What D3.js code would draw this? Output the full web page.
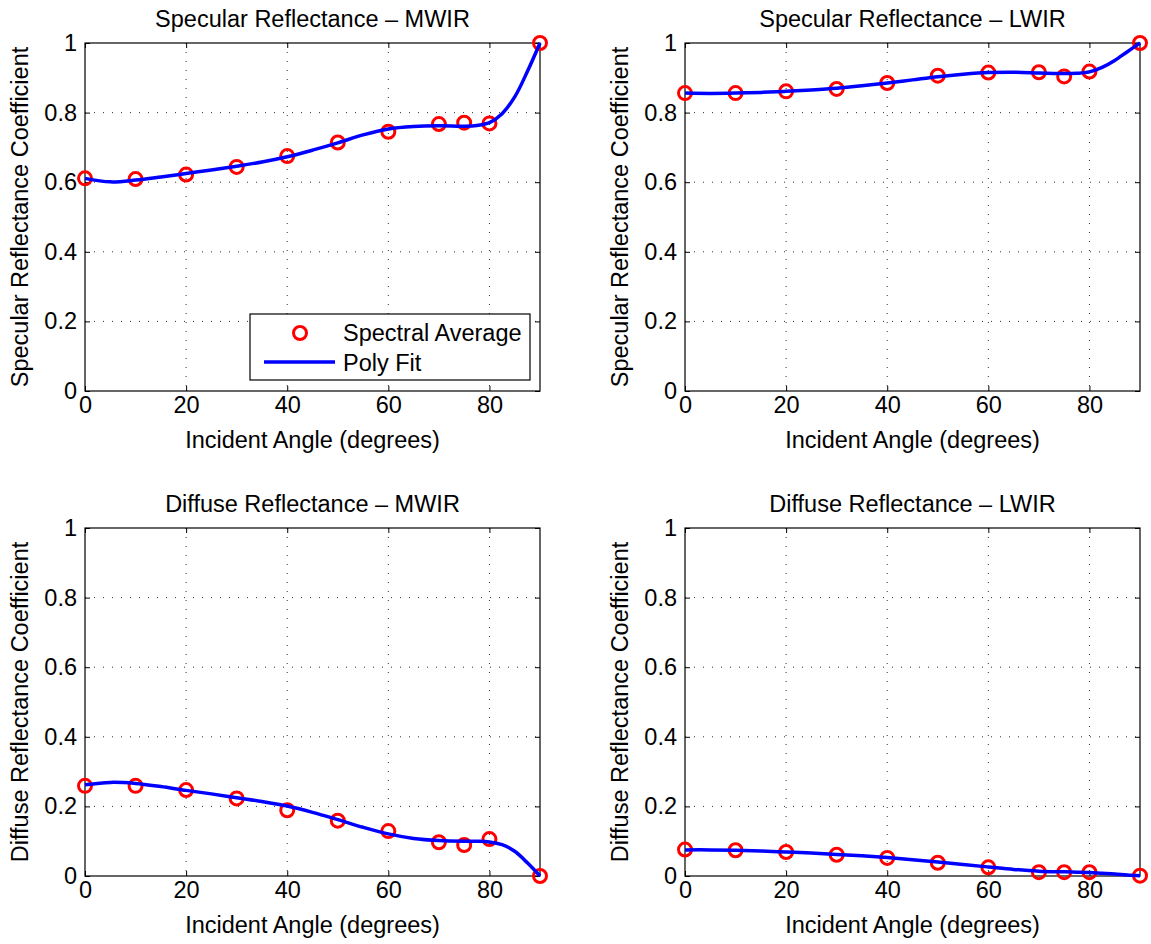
<!DOCTYPE html>
<html>
<head>
<meta charset="utf-8">
<script src="https://cdnjs.cloudflare.com/ajax/libs/d3/7.8.5/d3.min.js"></script>
<style>
  html, body { margin: 0; padding: 0; background: #fff; }
  svg { display: block; }
  text { font-family: "Liberation Sans", Arial, Helvetica, sans-serif; fill: #000; }
</style>
</head>
<body>
<svg id="chart" width="1151" height="944"></svg>
<script>
// ---------- data ----------
const angles = [0, 10, 20, 30, 40, 50, 60, 70, 75, 80, 90];
const fitAngles = [0, 5, 10, 15, 20, 25, 30, 35, 40, 45, 50, 55, 60, 65, 70, 75, 77.5, 80, 82.5, 85, 87.5, 90];

const specMWIR = [0.611, 0.609, 0.622, 0.644, 0.675, 0.714, 0.745, 0.767, 0.771, 0.769, 1.0];
const specMWIRFit = [0.611, 0.601, 0.606, 0.615, 0.625, 0.635, 0.646, 0.658, 0.673, 0.692, 0.713, 0.736, 0.753, 0.760, 0.762, 0.761, 0.763, 0.771, 0.797, 0.845, 0.918, 1.0];

const specLWIR = [0.856, 0.856, 0.861, 0.868, 0.885, 0.906, 0.915, 0.916, 0.904, 0.918, 1.0];
const specLWIRFit = [0.856, 0.855, 0.856, 0.858, 0.861, 0.865, 0.870, 0.877, 0.885, 0.894, 0.903, 0.910, 0.915, 0.916, 0.914, 0.912, 0.913, 0.917, 0.930, 0.950, 0.975, 1.0];

const diffMWIR = [0.259, 0.259, 0.247, 0.223, 0.189, 0.159, 0.129, 0.097, 0.089, 0.106, 0.0];
const diffMWIRFit = [0.262, 0.269, 0.266, 0.257, 0.246, 0.236, 0.225, 0.214, 0.201, 0.183, 0.162, 0.140, 0.121, 0.108, 0.102, 0.100, 0.100, 0.098, 0.090, 0.071, 0.038, 0.0];

const diffLWIR = [0.076, 0.074, 0.069, 0.061, 0.052, 0.038, 0.025, 0.011, 0.011, 0.011, 0.001];
const diffLWIRFit = [0.075, 0.075, 0.074, 0.072, 0.069, 0.066, 0.062, 0.058, 0.053, 0.047, 0.040, 0.033, 0.026, 0.019, 0.014, 0.012, 0.011, 0.010, 0.008, 0.006, 0.003, 0.001];

const xTicks = [0, 20, 40, 60, 80];
const yTicks = [0, 0.2, 0.4, 0.6, 0.8, 1];
const xDomain = [0, 90];
const yDomain = [0, 1];

const panelTitles = ["Specular Reflectance \u2013 MWIR", "Specular Reflectance \u2013 LWIR",
                     "Diffuse Reflectance \u2013 MWIR", "Diffuse Reflectance \u2013 LWIR"];
const yLabels = ["Specular Reflectance Coefficient", "Specular Reflectance Coefficient",
                 "Diffuse Reflectance Coefficient", "Diffuse Reflectance Coefficient"];
const xLabel = "Incident Angle (degrees)";
const legendLabels = ["Spectral Average", "Poly Fit"];

const panels = [
  { title: panelTitles[0], ylabel: yLabels[0], pts: specMWIR, fit: specMWIRFit, left: 85, top: 43, legend: true },
  { title: panelTitles[1], ylabel: yLabels[1], pts: specLWIR, fit: specLWIRFit, left: 685, top: 43, legend: false },
  { title: panelTitles[2], ylabel: yLabels[2], pts: diffMWIR, fit: diffMWIRFit, left: 85, top: 528, legend: false },
  { title: panelTitles[3], ylabel: yLabels[3], pts: diffLWIR, fit: diffLWIRFit, left: 685, top: 528, legend: false }
];

// ---------- drawing ----------
const W = 455, H = 348;
const svg = d3.select("#chart");
const FS = 23.5;

panels.forEach(p => {
  const g = svg.append("g").attr("transform", `translate(${p.left},${p.top})`);
  const x = d3.scaleLinear().domain(xDomain).range([0, W]);
  const y = d3.scaleLinear().domain(yDomain).range([H, 0]);

  // grid
  const grid = g.append("g").attr("class", "grid");
  xTicks.filter(t => t > xDomain[0] && t < xDomain[1]).forEach(t => {
    grid.append("line").attr("x1", x(t)).attr("x2", x(t)).attr("y1", 0).attr("y2", H)
      .attr("stroke", "#333").attr("stroke-width", 1).attr("stroke-dasharray", "1,8");
  });
  yTicks.filter(t => t > yDomain[0] && t < yDomain[1]).forEach(t => {
    grid.append("line").attr("x1", 0).attr("x2", W).attr("y1", y(t)).attr("y2", y(t))
      .attr("stroke", "#333").attr("stroke-width", 1).attr("stroke-dasharray", "1,8");
  });

  // axes (inward ticks on all four sides)
  const tickLen = 5;
  const ax = g.append("g").attr("transform", `translate(0,${H})`)
    .call(d3.axisBottom(x).tickValues(xTicks).tickSizeInner(-tickLen).tickSizeOuter(0).tickPadding(5).tickFormat(d3.format("d")));
  const axTop = g.append("g")
    .call(d3.axisTop(x).tickValues(xTicks).tickSizeInner(-tickLen).tickSizeOuter(0).tickFormat(""));
  const ay = g.append("g")
    .call(d3.axisLeft(y).tickValues(yTicks).tickSizeInner(-tickLen).tickSizeOuter(0).tickPadding(8).tickFormat(d => d === 0 ? "0" : d === 1 ? "1" : d3.format(".1f")(d)));
  const ayR = g.append("g").attr("transform", `translate(${W},0)`)
    .call(d3.axisRight(y).tickValues(yTicks).tickSizeInner(-tickLen).tickSizeOuter(0).tickFormat(""));
  [ax, axTop, ay, ayR].forEach(a => {
    a.select(".domain").remove();
    a.selectAll("line").attr("stroke", "#000");
    a.selectAll("text").attr("font-size", FS).attr("font-family", "Liberation Sans, Arial, sans-serif").attr("fill", "#000");
  });
  // box
  g.append("rect").attr("x", 0).attr("y", 0).attr("width", W).attr("height", H)
    .attr("fill", "none").attr("stroke", "#000").attr("stroke-width", 1.2);

  // markers
  g.append("g").selectAll("circle").data(angles.map((a, i) => [a, p.pts[i]])).join("circle")
    .attr("cx", d => x(d[0])).attr("cy", d => y(d[1])).attr("r", 6.5)
    .attr("fill", "none").attr("stroke", "#ff0000").attr("stroke-width", 3);

  // fit line
  const line = d3.line().x(d => x(d[0])).y(d => y(d[1])).curve(d3.curveCatmullRom.alpha(0.5));
  g.append("path").datum(fitAngles.map((a, i) => [a, p.fit[i]]))
    .attr("d", line).attr("fill", "none").attr("stroke", "#0000ff").attr("stroke-width", 3.5)
    .attr("stroke-linejoin", "round");

  // title
  g.append("text").attr("x", W / 2).attr("y", -16).attr("text-anchor", "middle")
    .attr("font-size", FS).text(p.title);
  // x label
  g.append("text").attr("x", W / 2).attr("y", H + 57).attr("text-anchor", "middle")
    .attr("font-size", FS).text(xLabel);
  // y label
  g.append("text").attr("transform", `translate(-57,${H / 2}) rotate(-90)`).attr("text-anchor", "middle")
    .attr("font-size", FS).text(p.ylabel);

  if (p.legend) {
    const lg = g.append("g").attr("transform", `translate(${250 - p.left},${314 - p.top})`);
    lg.append("rect").attr("width", 280).attr("height", 66).attr("fill", "#fff")
      .attr("stroke", "#000").attr("stroke-width", 1.2);
    lg.append("circle").attr("cx", 50).attr("cy", 19).attr("r", 6.5)
      .attr("fill", "none").attr("stroke", "#ff0000").attr("stroke-width", 3);
    lg.append("line").attr("x1", 14).attr("x2", 85).attr("y1", 48).attr("y2", 48)
      .attr("stroke", "#0000ff").attr("stroke-width", 3.5);
    lg.append("text").attr("x", 93).attr("y", 27).attr("font-size", FS).text(legendLabels[0]);
    lg.append("text").attr("x", 93).attr("y", 57).attr("font-size", FS).text(legendLabels[1]);
  }
});
</script>
</body>
</html>
